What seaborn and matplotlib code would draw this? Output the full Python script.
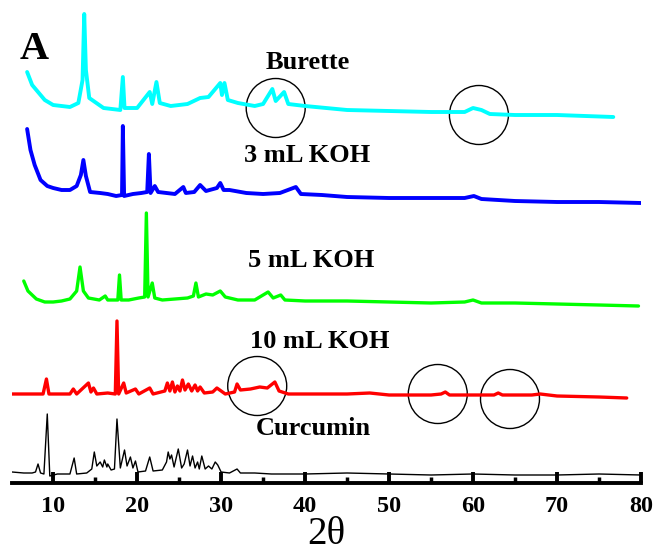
import matplotlib
matplotlib.use("Agg")
import matplotlib.pyplot as plt
from matplotlib.patches import Ellipse
from matplotlib.ticker import MultipleLocator
import seaborn as sns
import pandas as pd

# ---------------- data (2theta, relative intensity) ----------------
burette_x = [6.9, 7.5, 8, 9, 10, 12, 13, 13.5, 13.7, 13.9, 14.3, 16, 18, 18.3, 18.5, 20, 21.5, 21.8,
             22.3, 22.7, 24, 26, 27.5, 28.5, 29.9, 30.1, 30.4, 30.8, 32, 34, 35, 36.1, 36.5, 37.5, 38,
             40, 45, 50, 55, 59, 60, 61, 62, 65, 70, 76.7]
burette_y = [43, 30, 25, 15, 10, 8, 12, 35, 101, 45, 17, 7, 5, 38, 7, 7, 23, 11,
             33, 12, 9, 11, 17, 18, 32, 20, 32, 15, 12, 9, 11, 26, 14, 23, 11,
             9, 5, 4, 3, 3, 7, 5, 1, 0, 0, -2]

koh3_x = [6.9, 7.3, 7.8, 8.5, 9.3, 10, 11, 12, 12.8, 13.3, 13.6, 13.9, 14.4, 15.6, 16.5, 17.5, 18.2,
          18.3, 18.45, 19.5, 20.5, 21.2, 21.4, 21.6, 22.1, 22.5, 23.5, 24.5, 25.5, 25.8, 26.8, 27.5,
          28.2, 29.5, 29.9, 30.3, 31, 33, 35, 37, 38.9, 39.5, 42, 45, 50, 55, 59, 60.1, 61, 65, 70, 75, 80]
koh3_y = [71, 50, 35, 20, 14, 12, 10, 10, 14, 25, 40, 24, 8, 7, 6, 4, 5,
          74, 4, 6, 7, 8, 46, 7, 14, 8, 7, 6, 13, 7, 8, 15,
          9, 12, 17, 10, 10, 7, 6, 7, 13, 6, 5, 3, 2, 2, 2, 4, 1, -1, -2, -2, -3]

koh5_x = [6.5, 7, 8, 9, 10, 11, 12, 12.8, 13.2, 13.6, 14.2, 15.5, 16.2, 16.5, 17.7, 17.9, 18.1, 19,
          20.2, 20.9, 21.1, 21.3, 21.8, 22.1, 23, 24.5, 26, 26.7, 27.0, 27.3, 28.2, 29, 29.9, 30.5, 32,
          34, 35.6, 36.2, 37.1, 37.6, 40, 45, 50, 55, 59, 60, 61, 65, 70, 75, 79.7]
koh5_y = [22, 12, 4, 1, 1, 2, 4, 12, 36, 12, 5, 3, 7, 3, 3, 28, 3, 3,
          5, 6, 90, 6, 20, 5, 3, 4, 5, 7, 20, 6, 9, 8, 12, 6, 3,
          3, 11, 5, 8, 3, 2, 2, 1, 0, 1, 3, 0, 0, -1, -2, -3]

koh10_x = [5.1, 8.8, 9.2, 9.5, 12, 12.4, 12.8, 14.2, 14.5, 14.8, 15.2, 16.5, 17.4, 17.6, 17.8, 18.4,
           18.7, 19.8, 20.2, 21.5, 21.9, 23.3, 23.6, 23.9, 24.2, 24.5, 24.8, 25.1, 25.4, 25.7, 26.1,
           26.5, 26.9, 27.2, 27.5, 28, 29, 29.5, 30.5, 31.6, 31.9, 32.3, 33.5, 34.6, 35.5, 36.4, 36.9,
           38, 40, 45, 47.7, 50, 55, 56.2, 56.7, 57.2, 60, 62.5, 63, 63.5, 67, 68, 70, 75, 78.3]
koh10_y = [1, 1, 16, 1, 1, 6, 1, 12, 3, 7, 1, 2, 1, 74, 1, 12,
           2, 6, 1, 7, 1, 4, 12, 4, 13, 3, 9, 4, 15, 5, 11,
           4, 10, 4, 8, 2, 3, 7, 1, 3, 11, 5, 6, 8, 7, 13, 4,
           1, 1, 1, 2, 0, 0, 1, 3, 0, 0, 0, 2, 0, 0, 1, -1, -2, -3]

curc_x = [5.1, 6.5, 7.5, 7.9, 8.2, 8.5, 8.9, 9.3, 9.6, 10.5, 12, 12.5, 12.8, 14, 14.6, 14.9, 15.2,
          15.6, 15.9, 16.1, 16.4, 16.5, 16.9, 17.3, 17.6, 18, 18.5, 18.8, 19.2, 19.5, 19.8, 20.1, 21,
          21.5, 21.9, 23, 23.5, 23.7, 23.9, 24.1, 24.4, 24.9, 25.3, 25.6, 26, 26.3, 26.6, 26.9, 27.2,
          27.4, 27.7, 28.1, 28.5, 28.9, 29.3, 29.6, 30, 31, 31.9, 32.3, 34, 36, 40, 45, 50, 55, 60,
          65, 70, 75, 80]
curc_y = [2, 1, 1, 2, 10, 1, 0, 60, -2, 0, 0, 16, 0, 1, 5, 22, 8,
          12, 7, 14, 7, 10, 4, 5, 55, 6, 24, 8, 17, 6, 13, 2, 3,
          17, 3, 4, 12, 22, 15, 19, 7, 25, 6, 10, 24, 8, 18, 6, 12,
          5, 18, 5, 8, 5, 12, 9, 2, 1, 5, 1, 1, 0, 0, 1, 0, -1, 0,
          -1, -1, 0, -1]

names = ["Burette", "3 mL KOH", "5 mL KOH", "10 mL KOH", "Curcumin"]
xs = [burette_x, koh3_x, koh5_x, koh10_x, curc_x]
ys = [burette_y, koh3_y, koh5_y, koh10_y, curc_y]
colors = ["#00FFFF", "#0000FF", "#00FF00", "#FF0000", "#000000"]
offsets = [368, 283, 180, 88, 9]
widths = [2.8, 2.8, 2.4, 2.4, 1.0]

# ---------------- figure ----------------
sns.set_style("white")
plt.rcParams["font.family"] = ["Liberation Serif", "DejaVu Serif"]
plt.rcParams["text.color"] = "black"
plt.rcParams["xtick.color"] = "black"
plt.rcParams["axes.labelcolor"] = "black"

fig = plt.figure(figsize=(6.55, 5.56), dpi=100)
ax = fig.add_axes([12 / 655, 1 - 483 / 556, (641 - 12) / 655, 483 / 556])

for n, x, y, c, off, lw in zip(names, xs, ys, colors, offsets, widths):
    df = pd.DataFrame({"two_theta": x, "I": [v + off for v in y]})
    sns.lineplot(data=df, x="two_theta", y="I", color=c, lw=lw, ax=ax,
                 estimator=None, sort=False)

ax.set_xlim(5.1, 80)
ax.set_ylim(0, 483)

# labels of curves
label_pos = [(40.3, 414), (40.2, 321), (40.7, 216), (41.7, 135), (41.0, 48)]
for n, (lx, ly) in zip(names, label_pos):
    ax.text(lx, ly, n, ha="center", va="baseline", fontsize=19, fontweight="bold",
            color="black")

# circles (annotations)
circles = [(36.5, 375), (60.7, 368), (34.3, 97), (55.8, 89), (64.4, 84)]
for cx, cy in circles:
    ax.add_patch(Ellipse((cx, cy), width=59 / 8.4, height=59, fill=False,
                         edgecolor="black", lw=1.0))

fig.text(20 / 655, 1 - 59 / 556, "A", fontsize=29, fontweight="bold",
         ha="left", va="baseline", color="black")

# axes styling
for s in ["left", "right", "top"]:
    ax.spines[s].set_visible(False)
ax.spines["bottom"].set_linewidth(2.8)
ax.spines["bottom"].set_color("black")
ax.set_yticks([])
ax.xaxis.set_major_locator(MultipleLocator(10))
ax.xaxis.set_minor_locator(MultipleLocator(5))
ax.tick_params(axis="x", which="both", bottom=True, colors="black")
ax.tick_params(axis="x", which="major", direction="in", length=8, width=2.8, pad=9,
               labelsize=17.5)
ax.tick_params(axis="x", which="minor", direction="in", length=4, width=2.5)
for lab in ax.get_xticklabels():
    lab.set_fontweight("bold")
ax.set_xlabel("2θ", fontsize=28, labelpad=0, color="black")
ax.set_ylabel("")

fig.savefig("out.png", dpi=100)
